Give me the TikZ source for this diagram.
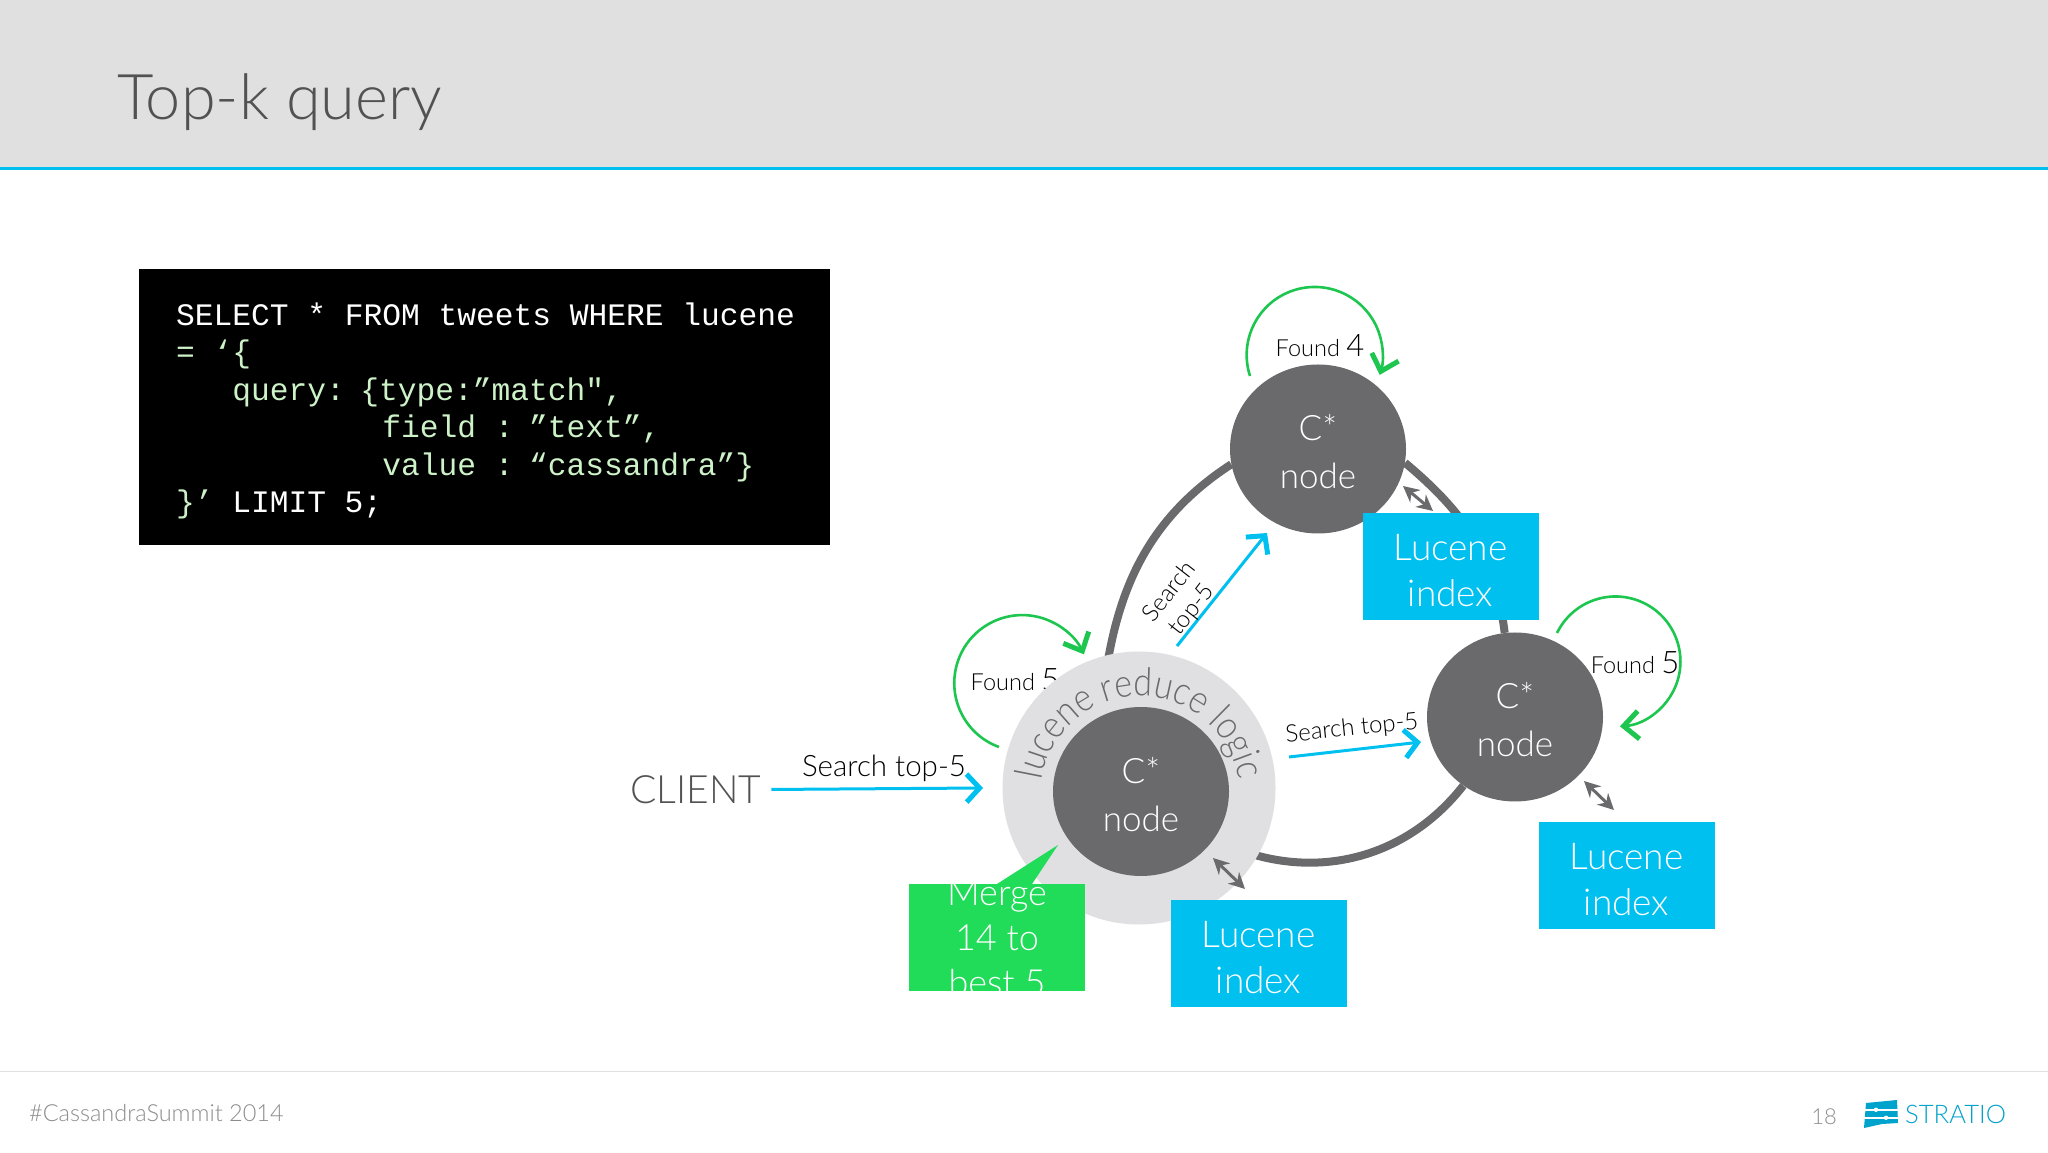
\documentclass[tikz,border=0pt]{standalone}
\usepackage{fontspec}
\usepackage{tikz}
\usetikzlibrary{arrows.meta,backgrounds,decorations.text,shapes.geometric}
\setmainfont{Lato Light}
\newfontfamily\codefont[WordSpace={1}]{Liberation Mono}
\newfontfamily\arcfont[FakeStretch=0.87]{Lato Light}
\definecolor{nodegray}{HTML}{6A696C}
\definecolor{halogray}{HTML}{E0DFE2}
\definecolor{headgray}{HTML}{E0E0E0}
\definecolor{cyanbox}{HTML}{00C0F0}
\definecolor{greenbox}{HTML}{20DC58}
\definecolor{codegreen}{HTML}{CDF2C8}
\newcommand{\fs}[2]{\fontsize{#1}{#2}\selectfont}

\begin{document}
\begin{tikzpicture}[
		x=1pt,y=1pt,
		cnode/.style={ellipse,fill=nodegray,minimum width=176,minimum height=169,inner sep=0,
			label={[yshift=-3,inner sep=0,text=white,align=center,font=\fs{35}{48}]center:#1}},
		lucene/.style={rectangle,fill=cyanbox,minimum width=176,minimum height=107,inner sep=0,
			label={[yshift=-4,inner sep=0,text=white,align=center,font=\fs{37}{46}]center:#1}},
		plainlabel/.style={inner sep=0,align=center,text=black},
		ring/.style={draw=nodegray,line width=8},
		search/.style={draw=cyanbox,line width=3,-{Straight Barb[length=13pt,width=28pt,line width=5pt]}},
		found/.style={draw=greenbox!90!black,line width=2.6,-{Straight Barb[length=15pt,width=28pt,line width=5pt]}},
		index/.style={draw=nodegray,line width=3,{Stealth[length=16pt,width=16pt]}-{Stealth[length=16pt,width=16pt]}}]

		% slide frame
		\useasboundingbox (0,0) rectangle (2048,1152);
		\fill[headgray] (0,985) rectangle (2048,1152);
		\fill[cyanbox] (0,982) rectangle (2048,985);
		\fill[headgray] (0,80.5) rectangle (2048,81.5);
		\node[anchor=base west,inner sep=0,text=black!68,font=\fs{63}{72}] (title) at (117,1032) {Top-k query};

		\node[rectangle,fill=black,minimum width=691,minimum height=276,inner sep=0] (query) at (484,745) {};
		\node[text=white,text width=622,inner sep=0,align=left,font=\codefont\fs{31.25}{37.5}] (querytext) at (487,741) {\spaceskip=18.75pt\relax
			SELECT * FROM tweets WHERE lucene\\
			\color{codegreen}= ‘\{\\
			\color{codegreen}~~~query: \{type:”match",\\
			\color{codegreen}~~~~~~~~~~~field : ”text”,\\
			\color{codegreen}~~~~~~~~~~~value : “cassandra”\}\\
			\color{codegreen}\}’ \color{white}LIMIT 5;};

		% cassandra nodes
		\node[cnode={C*\\node}] (top) at (1318,703) {};
		\node[cnode={C*\\node}] (left) at (1141,360.5) {};
		\node[cnode={C*\\node}] (right) at (1515,435) {};

		\begin{pgfonlayer}{background}
		\fill[white] (0,0) rectangle (2048,1152);
		\draw[ring] (top.190) to[out=213,in=85] (left.118);
		\draw[ring] (left.-33) to[out=-27,in=232] (right.233);
		\draw[ring] (right.97) to[out=97,in=-40] (top.-9);
		\node[plainlabel,font=\fs{23.5}{30}] (foundleft) at (1015,472) {Found \fs{31}{36}5};
		\node[circle,fill=halogray,minimum size=273,inner sep=0] (halo) at (1139,364) {};
		\coordinate (logicstart) at (1040.1,359.5);
		\path[decorate,decoration={text along path,text align=center,
			text={|\arcfont\fs{39}{42}\color{nodegray}|lucene reduce logic}}]
			(logicstart) arc[start angle=178,end angle=2,radius=100];
		\end{pgfonlayer}

		\node[lucene={Lucene\\index}] (indextop) at (1450.5,585.5) {};
		\node[lucene={Lucene\\index}] (indexleft) at (1258.5,198.5) {};
		\node[lucene={Lucene\\index}] (indexright) at (1626.5,276.5) {};

		% merge box, its last line is cut by the box
		\fill[greenbox] (997,268) -- (1032,268) -- (1058,307) -- cycle;
		\node[rectangle,fill=greenbox,minimum width=176,minimum height=107,inner sep=0] (merge) at (997,214.5) {};
		\begin{scope}
		\clip (merge.south west) rectangle (merge.north east);
		\node[inner sep=0,align=center,text=white,font=\fs{36}{45}] (mergetext) at (997,214) {Merge\\14 to\\best 5};
		\end{scope}

		% client request
		\node[inner sep=0,outer sep=10,text=black!68,font=\fs{39}{46}] (client) at (696,362) {CLIENT};
		\coordinate (clientend) at (983,364);
		\draw[search] (client) -- (clientend);
		\node[plainlabel,font=\fs{29.5}{34}] (searchclient) at (884,384) {Search top-5};

		% search on the other nodes
		\coordinate (searchtopa) at (1177,506);
		\coordinate (searchtopb) at (1267,619);
		\draw[search] (searchtopa) -- (searchtopb);
		\node[plainlabel,rotate=52,font=\fs{24}{29}] (searchtop) at (1181,551) {Search\\top-5};
		\coordinate (searchrighta) at (1289,395);
		\coordinate (searchrightb) at (1421,410);
		\draw[search] (searchrighta) -- (searchrightb);
		\node[plainlabel,rotate=6,font=\fs{24}{29}] (searchright) at (1352,423) {Search top-5};

		% found loops
		\coordinate (looptop) at (1250,776);
		\coordinate (loopleft) at (999,405);
		\coordinate (loopright) at (1557,519);
		\draw[found] (looptop) arc[start angle=198,end angle=-17,radius=68];
		\draw[found] (loopleft) arc[start angle=250,end angle=25,radius=68];
		\draw[found] (loopright) arc[start angle=154,end angle=-86,radius=65];
		\node[plainlabel,font=\fs{23.5}{30}] (foundtop) at (1320,806) {Found \fs{31}{36}4};
		\node[plainlabel,font=\fs{23.5}{30}] (foundright) at (1635,489) {Found \fs{31}{36}5};

		% node to index
		\coordinate (idxtopa) at (1403,666);
		\coordinate (idxtopb) at (1433,641);
		\coordinate (idxlefta) at (1213,294);
		\coordinate (idxleftb) at (1245,263);
		\coordinate (idxrighta) at (1584,371);
		\coordinate (idxrightb) at (1614,342);
		\draw[index] (idxtopa) -- (idxtopb);
		\draw[index] (idxlefta) -- (idxleftb);
		\draw[index] (idxrighta) -- (idxrightb);

		% footer
		\node[anchor=west,inner sep=0,text=black!45,font=\fs{23.5}{30}] (tag) at (29,39) {\#CassandraSummit 2014};
		\node[inner sep=0,text=black!45,font=\fs{22}{26}] (page) at (1824,35) {18};
		\fill[cyanbox!85!black] (1866,49) -- (1897,52) -- (1898,29) -- (1882,28) -- (1864,24) -- cycle;
		\fill[white] (1864,41.5) rectangle (1899,43);
		\fill[white] (1864,33.5) rectangle (1899,35);
		\fill[white] (1876,42.2) circle (2.2);
		\fill[white] (1886,34.2) circle (2.2);
		\node[anchor=west,inner sep=0,text=cyanbox!85!black,font=\fs{25.6}{32}] (stratio) at (1905,38) {STRATIO};

\end{tikzpicture}
\end{document}
